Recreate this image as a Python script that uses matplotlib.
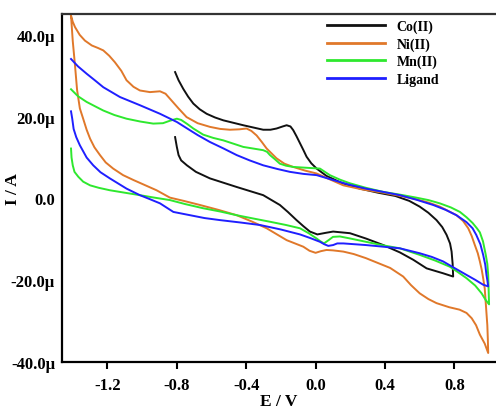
import matplotlib
matplotlib.use("Agg")
import matplotlib.pyplot as plt
from matplotlib.ticker import FuncFormatter

# potential (V) and current (uA), in scan order
co_E = [-0.81, -0.79, -0.763, -0.735, -0.705, -0.668, -0.628, -0.58, -0.532, -0.417,
        -0.302, -0.26, -0.225, -0.19, -0.167, -0.145, -0.129, -0.11, -0.09, -0.07,
        -0.052, -0.025, 0.006, 0.063, 0.15, 0.255, 0.36, 0.46, 0.54, 0.60, 0.65,
        0.697, 0.73, 0.755, 0.775, 0.784, 0.79, 0.793,
        0.735, 0.64, 0.563, 0.486, 0.39, 0.29, 0.198, 0.101, 0.06, 0.01, -0.033,
        -0.07, -0.11, -0.16, -0.206, -0.302, -0.455, -0.609, -0.69, -0.742, -0.775,
        -0.79, -0.80, -0.81]
co_I = [30.9, 28.9, 26.8, 24.9, 23.2, 21.8, 20.7, 19.8, 19.1, 17.9,
        16.8, 16.8, 17.1, 17.6, 17.9, 17.6, 16.7, 15.2, 13.5, 11.8,
        10.2, 8.6, 7.3, 5.5, 3.8, 2.4, 1.4, 0.6, -0.6, -2.0, -3.5,
        -5.3, -7.0, -8.9, -11.0, -13.0, -16.0, -19.1,
        -18.3, -17.1, -15.0, -13.2, -11.4, -9.8, -8.5, -8.1, -8.4, -8.8, -8.1,
        -6.8, -5.3, -3.3, -1.6, 0.8, 2.8, 4.9, 6.5, 8.1, 9.3,
        10.6, 12.6, 15.0]

ni_E = [-1.41, -1.40, -1.387, -1.36, -1.33, -1.29, -1.255, -1.224, -1.19, -1.157,
        -1.12, -1.09, -1.05, -1.013, -0.955, -0.897, -0.865, -0.84, -0.79, -0.744,
        -0.68, -0.609, -0.55, -0.494, -0.44, -0.398, -0.37, -0.34, -0.31, -0.282,
        -0.225, -0.18, -0.129, -0.06, 0.006, 0.08, 0.16, 0.27, 0.39, 0.49, 0.58,
        0.65, 0.716, 0.812, 0.85, 0.88, 0.90, 0.918, 0.935, 0.947, 0.958, 0.966,
        0.975, 0.98, 0.985, 0.99, 0.993, 0.995,
        0.975, 0.947, 0.925, 0.90, 0.87, 0.83, 0.77, 0.697, 0.65, 0.60, 0.55, 0.505,
        0.43, 0.36, 0.29, 0.22, 0.16, 0.10, 0.063, 0.03, 0.0, -0.035, -0.071,
        -0.167, -0.282, -0.37, -0.455, -0.56, -0.667, -0.76, -0.84, -0.917, -1.05,
        -1.11, -1.167, -1.21, -1.243, -1.275, -1.30, -1.32, -1.34, -1.359, -1.375,
        -1.387, -1.40, -1.41]
ni_I = [44.7, 43.2, 41.9, 40.0, 38.6, 37.4, 36.8, 36.2, 34.9, 33.3,
        31.2, 28.9, 27.3, 26.4, 26.0, 26.2, 25.6, 24.4, 22.0, 19.9,
        18.4, 17.5, 17.0, 16.8, 16.9, 17.1, 16.5, 15.4, 13.8, 12.2,
        9.8, 8.5, 7.7, 6.8, 6.1, 4.7, 3.2, 2.2, 1.4, 0.6, -0.2,
        -1.0, -2.0, -4.1, -5.5, -7.3, -9.2, -11.4, -13.4, -15.4, -17.5, -19.5,
        -22.0, -25.0, -28.0, -31.0, -34.5, -37.8,
        -35.5, -33.3, -31.0, -29.3, -28.0, -27.2, -26.6, -25.6, -24.6, -23.2, -21.2, -19.1,
        -17.0, -15.8, -14.6, -13.6, -13.0, -12.7, -12.6, -12.9, -13.3, -12.8, -11.8,
        -10.2, -7.3, -5.6, -4.1, -2.8, -1.6, -0.6, 0.2, 2.0, 4.5,
        5.7, 7.3, 8.8, 10.6, 12.5, 14.6, 16.8, 19.5, 22.0, 26.5,
        32.5, 38.5, 44.7]

mn_E = [-1.41, -1.37, -1.32, -1.27, -1.224, -1.16, -1.09, -1.01, -0.936, -0.88,
        -0.84, -0.80, -0.775, -0.74, -0.705, -0.648, -0.59, -0.532, -0.417, -0.302,
        -0.28, -0.263, -0.235, -0.206, -0.17, -0.129, -0.052, 0.025, 0.05, 0.082,
        0.14, 0.198, 0.29, 0.39, 0.49, 0.58, 0.65, 0.716, 0.78, 0.832, 0.87, 0.905,
        0.93, 0.947, 0.965, 0.981, 0.99, 0.995, 1.0,
        0.98, 0.957, 0.92, 0.87, 0.82, 0.774, 0.69, 0.60, 0.486, 0.38, 0.29, 0.20,
        0.14, 0.10, 0.075, 0.048, 0.025, 0.006, -0.04, -0.09,
        -0.17, -0.263, -0.36, -0.455, -0.55, -0.648, -0.75, -0.84, -0.93, -1.013,
        -1.10, -1.186, -1.25, -1.30, -1.34, -1.368, -1.39, -1.40, -1.407, -1.41]
mn_I = [26.7, 25.0, 23.6, 22.5, 21.5, 20.4, 19.5, 18.8, 18.3, 18.4,
        19.0, 19.5, 19.2, 18.2, 17.1, 15.6, 14.8, 14.2, 12.6, 11.8,
        11.4, 10.6, 9.6, 8.5, 8.0, 7.7, 7.5, 7.3, 6.6, 5.7,
        4.6, 3.7, 2.6, 1.6, 0.9, 0.2, -0.4, -1.2, -2.2, -3.3, -4.6, -6.0,
        -7.3, -8.3, -10.5, -13.8, -16.0, -18.7, -25.9,
        -24.8, -23.2, -21.3, -19.5, -18.0, -16.7, -15.2, -13.8, -12.2, -11.4, -10.6, -9.8,
        -9.3, -9.4, -10.2, -11.0, -10.4, -9.8, -8.5, -7.3,
        -6.5, -5.7, -4.9, -4.1, -3.2, -2.4, -1.4, -0.4, 0.2, 0.8,
        1.4, 2.0, 2.6, 3.2, 4.1, 5.3, 6.5, 8.1, 10.0, 12.2]

lig_E = [-1.41, -1.37, -1.32, -1.27, -1.224, -1.128, -1.013, -0.897, -0.8, -0.744,
         -0.68, -0.609, -0.53, -0.455, -0.38, -0.302, -0.22, -0.148, -0.07, 0.006,
         0.101, 0.19, 0.29, 0.39, 0.486, 0.58, 0.678, 0.75, 0.812, 0.87, 0.905, 0.926,
         0.95, 0.966, 0.978, 0.985, 0.99, 0.995,
         0.966, 0.92, 0.87, 0.80, 0.735, 0.67, 0.60, 0.486, 0.39, 0.29, 0.16, 0.125,
         0.101, 0.073, 0.05, 0.025, -0.03, -0.09,
         -0.2, -0.32, -0.43, -0.551, -0.64, -0.724, -0.82, -0.897, -0.96, -1.013,
         -1.09, -1.186, -1.24, -1.282, -1.32, -1.359, -1.38, -1.395, -1.403, -1.41]
lig_I = [34.1, 32.3, 30.5, 28.8, 27.2, 24.8, 22.8, 20.7, 18.7, 17.2,
         15.5, 13.8, 12.2, 10.6, 9.3, 8.1, 7.2, 6.5, 6.0, 5.7,
         4.5, 3.4, 2.4, 1.6, 0.8, -0.3, -1.6, -2.8, -4.1, -5.8, -7.3, -8.9,
         -11.2, -13.8, -16.2, -18.7, -20.0, -21.5,
         -21.1, -19.9, -18.7, -17.0, -15.4, -14.3, -13.4, -12.2, -11.8, -11.4, -11.0, -11.0,
         -11.4, -11.6, -11.2, -10.6, -9.7, -8.8,
         -7.6, -6.5, -5.9, -5.3, -4.8, -4.1, -3.3, -1.2, -0.1, 0.8,
         2.4, 4.9, 6.4, 8.1, 10.0, 13.0, 15.0, 17.0, 19.5, 21.3]

labels = ["Co(II)", "Ni(II)", "Mn(II)", "Ligand"]
colors = ["#111111", "#E0782A", "#2EE82E", "#1F1FFF"]

plt.rcParams["font.family"] = "Liberation Serif"
plt.rcParams["font.weight"] = "bold"

fig = plt.figure(figsize=(4.96, 4.10), dpi=100)
ax = fig.add_axes([0.125, 0.1146, 0.875, 0.8488])

series = [(co_E, co_I), (ni_E, ni_I), (mn_E, mn_I), (lig_E, lig_I)]
for (e, i), lab, c in zip(series, labels, colors):
    ax.plot(e, i, color=c, lw=1.4, label=lab, solid_joinstyle="round")

ax.set_xlim(-1.462, 1.04)
ax.set_ylim(-40, 45.1)
ax.set_xticks([-1.2, -0.8, -0.4, 0.0, 0.4, 0.8])
ax.set_yticks([-40, -20, 0, 20, 40])
ax.yaxis.set_major_formatter(FuncFormatter(lambda v, p: "0.0" if v == 0 else f"{v:.1f}\u03bc"))
ax.xaxis.set_major_formatter(FuncFormatter(lambda v, p: f"{v:.1f}"))

for s in ["left", "bottom", "top"]:
    ax.spines[s].set_linewidth(1.6)
ax.spines["top"].set_color("#333333")
ax.spines["right"].set_visible(False)
ax.tick_params(axis="x", direction="out", length=5, width=1.5, pad=6, labelsize=12)
ax.tick_params(axis="y", length=0, pad=5, labelsize=12)

ax.set_xlabel("E / V", fontsize=12.5, fontweight="bold")
ax.xaxis.set_label_coords(0.5, -0.088)
ax.set_ylabel("I / A", fontsize=12.5, fontweight="bold")
ax.yaxis.set_label_coords(-0.095, 0.5)

leg = ax.legend(loc="upper left", bbox_to_anchor=(0.597, 1.0), borderaxespad=0,
                frameon=False, fontsize=10, handlelength=4.2, handletextpad=0.85,
                labelspacing=0.3)
for line in leg.get_lines():
    line.set_linewidth(2.0)

fig.savefig("out.png", dpi=100)
